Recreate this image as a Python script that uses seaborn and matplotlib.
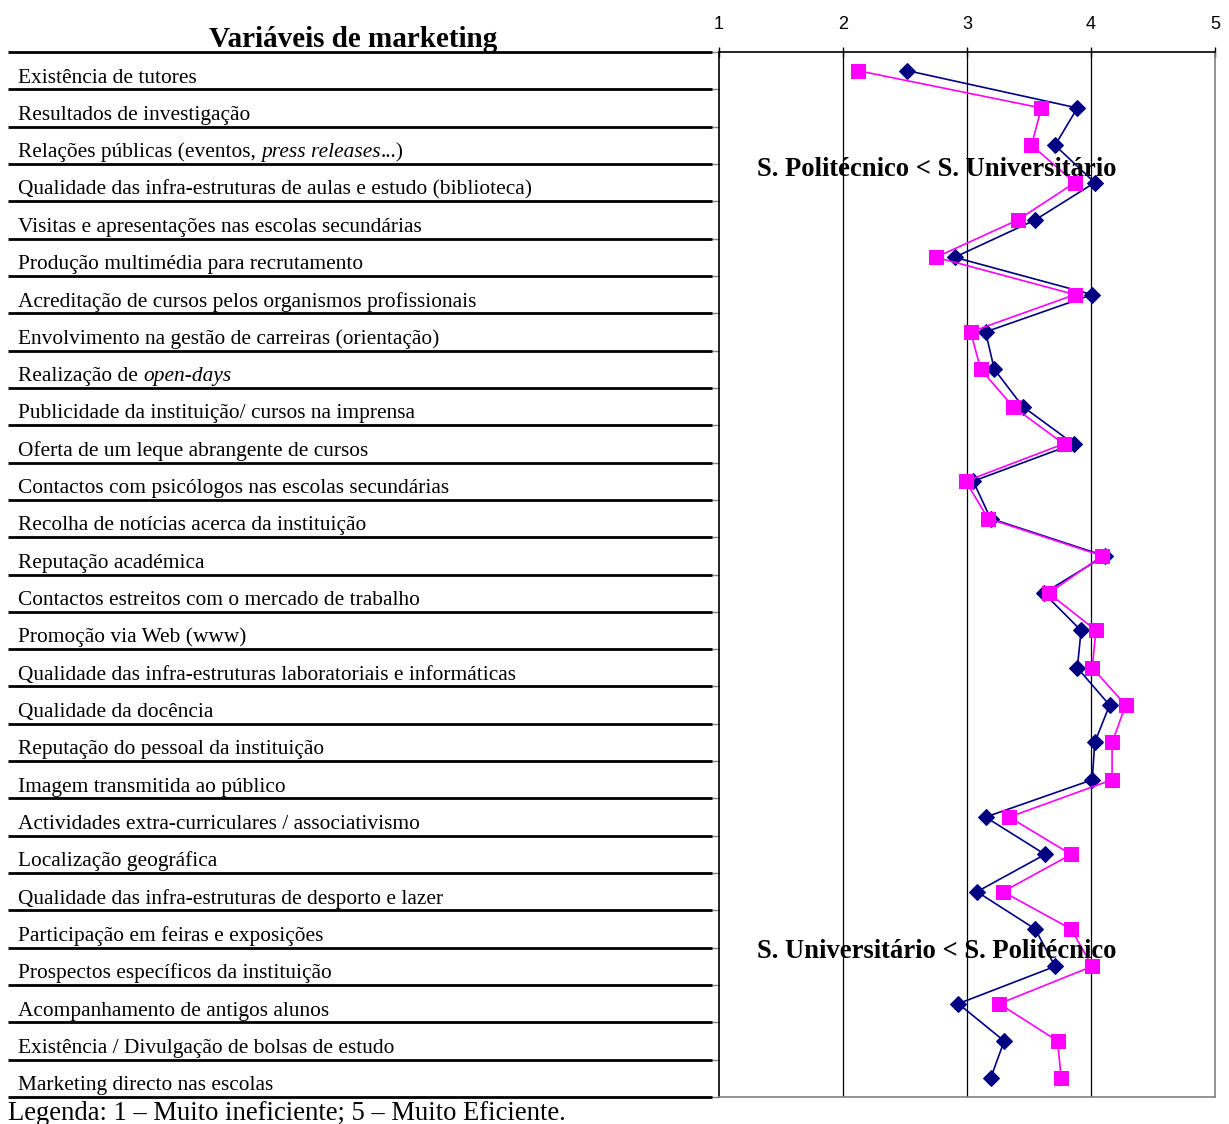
import numpy as np
import pandas as pd
import matplotlib
matplotlib.use("Agg")
import matplotlib.pyplot as plt
import seaborn as sns

# Marketing variables (rows, top to bottom); |...| marks italic text
variaveis = [
    "Existência de tutores",
    "Resultados de investigação",
    "Relações públicas (eventos, |press releases|...)",
    "Qualidade das infra-estruturas de aulas e estudo (biblioteca)",
    "Visitas e apresentações nas escolas secundárias",
    "Produção multimédia para recrutamento",
    "Acreditação de cursos pelos organismos profissionais",
    "Envolvimento na gestão de carreiras (orientação)",
    "Realização de |open-days|",
    "Publicidade da instituição/ cursos na imprensa",
    "Oferta de um leque abrangente de cursos",
    "Contactos com psicólogos nas escolas secundárias",
    "Recolha de notícias acerca da instituição",
    "Reputação académica",
    "Contactos estreitos com o mercado de trabalho",
    "Promoção via Web (www)",
    "Qualidade das infra-estruturas laboratoriais e informáticas",
    "Qualidade da docência",
    "Reputação do pessoal da instituição",
    "Imagem transmitida ao público",
    "Actividades extra-curriculares / associativismo",
    "Localização geográfica",
    "Qualidade das infra-estruturas de desporto e lazer",
    "Participação em feiras e exposições",
    "Prospectos específicos da instituição",
    "Acompanhamento de antigos alunos",
    "Existência / Divulgação de bolsas de estudo",
    "Marketing directo nas escolas",
]

# Mean efficiency scores (1 - 5)
universitario = [2.52, 3.89, 3.71, 4.03, 3.55, 2.90, 4.01, 3.15, 3.22, 3.45,
                 3.86, 3.05, 3.19, 4.11, 3.62, 3.92, 3.89, 4.15, 4.03, 4.01,
                 3.15, 3.63, 3.08, 3.55, 3.71, 2.93, 3.30, 3.19]
politecnico = [2.12, 3.60, 3.52, 3.87, 3.41, 2.75, 3.87, 3.03, 3.11, 3.37,
               3.78, 2.99, 3.17, 4.09, 3.66, 4.04, 4.01, 4.28, 4.17, 4.17,
               3.34, 3.84, 3.29, 3.84, 4.01, 3.26, 3.73, 3.76]

escala = [1, 2, 3, 4, 5]

sns.set_style("white")
plt.rcParams["font.family"] = ["Liberation Serif", "DejaVu Serif"]
plt.rcParams["text.color"] = "black"
plt.rcParams["xtick.color"] = "black"
plt.rcParams["xtick.labelcolor"] = "black"

W, H = 1229, 1124
fig = plt.figure(figsize=(W / 100, H / 100), dpi=100)

n = len(variaveis)
df = pd.DataFrame({
    "pos": np.arange(n) + 0.5,
    "universitario": universitario,
    "politecnico": politecnico,
})

top_px, bot_px = 52, 1097
ax_bottom = 1 - bot_px / H
ax_height = (bot_px - top_px) / H
ax = fig.add_axes([719 / W, ax_bottom, (1215 - 719) / W, ax_height])

navy = "#000080"
magenta = "#FF00FF"

sns.lineplot(data=df, x="universitario", y="pos", sort=False, orient="y",
             color=navy, marker="D", markersize=8.4, markeredgecolor=navy,
             linewidth=1.2, ax=ax, zorder=3)
sns.lineplot(data=df, x="politecnico", y="pos", sort=False, orient="y",
             color=magenta, marker="s", markersize=10, markeredgecolor=magenta,
             linewidth=1.2, ax=ax, zorder=4)

ax.set_xlim(escala[0], escala[-1])
ax.set_ylim(n, 0)
ax.set_xlabel("")
ax.set_ylabel("")
ax.xaxis.tick_top()
ax.set_xticks(escala)
ax.set_xticklabels([str(v) for v in escala], fontfamily="Liberation Sans", fontsize=13)
ax.tick_params(axis="x", direction="inout", length=7, width=1, color="black", pad=10)
ax.set_yticks(np.arange(n + 1))
ax.set_yticklabels([])
ax.tick_params(axis="y", direction="out", length=7, width=1, color="#808080", left=True)
for v in escala[1:-1]:
    ax.axvline(v, color="black", lw=0.9, zorder=1)
ax.grid(False)
ax.spines["top"].set_color("black")
ax.spines["left"].set_color("black")
ax.spines["right"].set_color("#808080")
ax.spines["bottom"].set_color("#808080")
for s in ax.spines.values():
    s.set_linewidth(1.2)

ax.text(1.306, 3.32, "S. Politécnico < S. Universitário", ha="left", va="baseline",
        fontsize=19.2, fontweight="bold", zorder=5)
ax.text(1.306, 24.28, "S. Universitário < S. Politécnico", ha="left", va="baseline",
        fontsize=19.2, fontweight="bold", zorder=5)

# Table of variables on the left
tab = fig.add_axes([8 / W, ax_bottom, (712 - 8) / W, ax_height])
tab.set_xlim(0, 704)
tab.set_ylim(n, 0)
tab.axis("off")
for k in range(n + 1):
    tab.plot([0, 704], [k, k], color="black", lw=2, solid_capstyle="butt", clip_on=False)

tab.text(345, -0.13, "Variáveis de marketing", ha="center", va="baseline",
         fontsize=21, fontweight="bold")

fs = 15.4
for i, lab in enumerate(variaveis):
    parts = lab.split("|")
    prev = None
    for j, part in enumerate(parts):
        style = "italic" if j % 2 == 1 else "normal"
        if prev is None:
            prev = tab.text(10, i + 0.82, part, ha="left", va="baseline",
                            fontsize=fs, fontstyle=style)
        else:
            prev = tab.annotate(part, xy=(1, 0), xycoords=prev, ha="left",
                                va="bottom", fontsize=fs, fontstyle=style)

fig.text(8 / W, 1 - 1120 / H, "Legenda: 1 – Muito ineficiente; 5 – Muito Eficiente.",
         ha="left", va="baseline", fontsize=19.2)

fig.savefig("out.png", dpi=100)
